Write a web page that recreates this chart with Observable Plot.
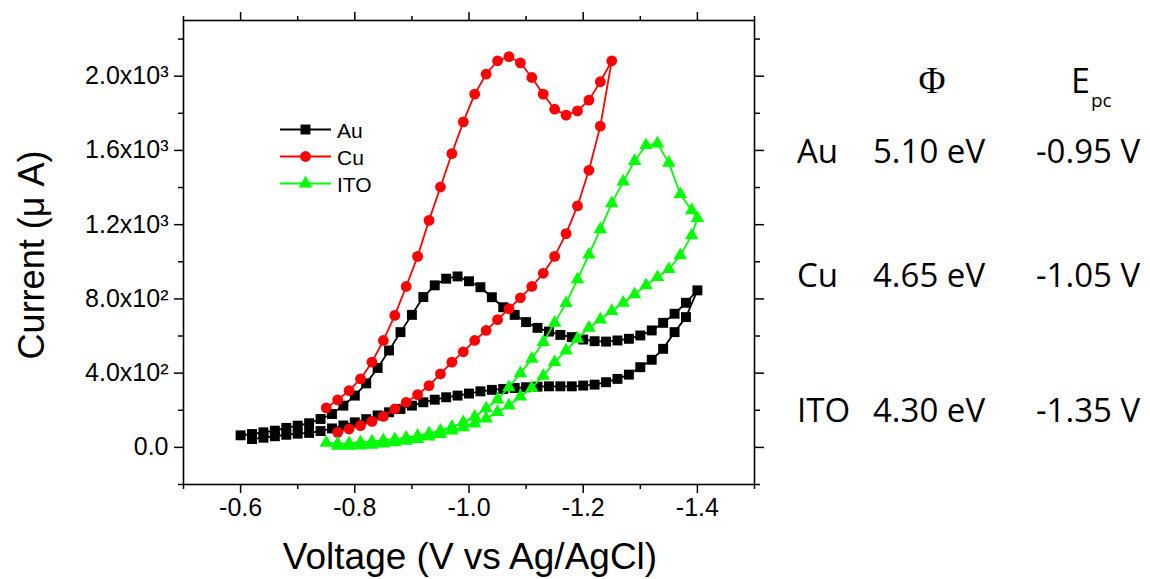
<!DOCTYPE html>
<html>
<head>
<meta charset="utf-8">
<script src="https://cdn.jsdelivr.net/npm/d3@7"></script>
<script src="https://cdn.jsdelivr.net/npm/@observablehq/plot@0.6"></script>
<style>
  body { margin: 0; background: #fff; }
  #wrap { position: relative; width: 1150px; height: 579px; overflow: hidden; background: #fff; }
  #chart { position: absolute; left: 0; top: 0; }
  #overlay { position: absolute; left: 0; top: 0; pointer-events: none; }
</style>
</head>
<body>
<div id="wrap">
  <div id="chart"></div>
  <svg id="overlay" width="1150" height="579"></svg>
</div>
<script>
// ---------------- data ----------------
const seriesNames = ["Au", "Cu", "ITO"];
const seriesColors = ["#000000", "#ff0000", "#00ff00"];
const seriesSymbols = ["square", "circle", "triangle"];

// Au: scan -0.60 -> -1.40 (branch A), return -1.38 -> -0.62 (branch B)
const auVoltA = [-0.60,-0.62,-0.64,-0.66,-0.68,-0.70,-0.72,-0.74,-0.76,-0.78,
                 -0.80,-0.82,-0.84,-0.86,-0.88,-0.90,-0.92,-0.94,-0.96,-0.98,
                 -1.00,-1.02,-1.04,-1.06,-1.08,-1.10,-1.12,-1.14,-1.16,-1.18,
                 -1.20,-1.22,-1.24,-1.26,-1.28,-1.30,-1.32,-1.34,-1.36,-1.38,-1.40];
const auCurrA = [65,72,81,90,105,117,130,153,180,225,
                 279,345,428,522,621,714,810,873,909,921,
                 895,863,809,755,714,675,644,624,606,594,
                 581,572,570,576,585,603,630,671,720,779,846];
const auVoltB = [-1.38,-1.36,-1.34,-1.32,-1.30,-1.28,-1.26,-1.24,-1.22,-1.20,
                 -1.18,-1.16,-1.14,-1.12,-1.10,-1.08,-1.06,-1.04,-1.02,-1.00,
                 -0.98,-0.96,-0.94,-0.92,-0.90,-0.88,-0.86,-0.84,-0.82,-0.80,
                 -0.78,-0.76,-0.74,-0.72,-0.70,-0.68,-0.66,-0.64,-0.62];
const auCurrB = [702,621,531,472,432,392,369,351,338,333,
                 329,329,329,327,324,320,315,310,302,290,
                 279,270,257,243,225,207,189,172,152,135,
                 118,102,88,78,74,68,60,52,45];

// Cu
const cuVoltA = [-0.75,-0.77,-0.79,-0.81,-0.83,-0.85,-0.87,-0.89,-0.91,-0.93,
                 -0.95,-0.97,-0.99,-1.01,-1.03,-1.05,-1.07,-1.09,-1.11,-1.13,
                 -1.15,-1.17,-1.19,-1.21,-1.23,-1.25];
const cuCurrA = [213,256,306,369,459,576,711,867,1029,1223,
                 1403,1583,1754,1903,2011,2083,2105,2072,1993,1903,
                 1822,1790,1813,1871,1970,2083];
const cuVoltB = [-1.23,-1.21,-1.19,-1.17,-1.15,-1.13,-1.11,-1.09,-1.07,-1.05,
                 -1.03,-1.01,-0.99,-0.97,-0.95,-0.93,-0.91,-0.89,-0.87,-0.85,
                 -0.83,-0.81,-0.79,-0.77];
const cuCurrB = [1731,1493,1301,1152,1029,938,867,806,747,688,
                 630,576,515,459,396,333,284,243,207,167,
                 140,117,99,81];

// ITO
const itoVoltA = [-0.75,-0.77,-0.79,-0.81,-0.83,-0.85,-0.87,-0.89,-0.91,-0.93,
                  -0.95,-0.97,-0.99,-1.01,-1.03,-1.05,-1.07,-1.09,-1.11,-1.13,
                  -1.15,-1.17,-1.19,-1.21,-1.23,-1.25,-1.27,-1.29,-1.31,-1.33,
                  -1.35,-1.37,-1.39,-1.40];
const itoCurrA = [25,20,22,27,32,38,44,52,62,75,
                  90,110,135,165,210,258,324,399,477,567,
                  671,777,905,1038,1175,1315,1432,1543,1628,1637,
                  1533,1364,1277,1235];
const itoVoltB = [-1.39,-1.37,-1.35,-1.33,-1.31,-1.29,-1.27,-1.25,-1.23,-1.21,
                  -1.19,-1.17,-1.15,-1.13,-1.11,-1.09,-1.07,-1.05,-1.03,-1.01,
                  -0.99,-0.97,-0.95,-0.93,-0.91,-0.89,-0.87,-0.85,-0.83,-0.81,
                  -0.79,-0.77];
const itoCurrB = [1142,1035,960,917,873,824,779,734,689,644,
                  585,522,459,385,321,274,225,190,155,128,
                  108,90,72,58,45,35,27,20,14,10,
                  8,8];

// axes
const xMajorTicks = [-0.6, -0.8, -1.0, -1.2, -1.4];
const xMinorTicks = [-0.5, -0.7, -0.9, -1.1, -1.3, -1.5];
const yMajorTicks = [0, 400, 800, 1200, 1600, 2000];
const yMajorLabels = ["0.0", "4.0x10\u00b2", "8.0x10\u00b2", "1.2x10\u00b3", "1.6x10\u00b3", "2.0x10\u00b3"];
const yMinorTicks = [-200, 200, 600, 1000, 1400, 1800, 2200];
const xTitle = "Voltage (V vs Ag/AgCl)";
const yTitle = "Current (\u03bc A)";

// side table
const tableMetals = ["Au", "Cu", "ITO"];
const tableWorkFunction = ["5.10 eV", "4.65 eV", "4.30 eV"];
const tableEpc = ["-0.95 V", "-1.05 V", "-1.35 V"];

// ---------------- build ----------------
const zip = (vs, is) => vs.map((v, k) => ({v, i: is[k]}));
const series = [
  zip(auVoltA, auCurrA).concat(zip(auVoltB, auCurrB)),
  zip(cuVoltA, cuCurrA).concat(zip(cuVoltB, cuCurrB)),
  zip(itoVoltA, itoCurrA).concat(zip(itoVoltB, itoCurrB))
];
const markerR = [5.6, 5.4, 5.0];

const blank = () => "";
const marks = [
  Plot.axisX(xMajorTicks, {anchor: "bottom", tickSize: 9, tickPadding: 5, fontSize: 25, strokeWidth: 1.5, tickFormat: d => d.toFixed(1), label: null}),
  Plot.axisX(xMinorTicks, {anchor: "bottom", tickSize: 5, strokeWidth: 1.5, tickFormat: blank, label: null}),
  Plot.axisX(xMajorTicks, {anchor: "top", tickSize: 9, strokeWidth: 1.5, tickFormat: blank, label: null}),
  Plot.axisX(xMinorTicks, {anchor: "top", tickSize: 5, strokeWidth: 1.5, tickFormat: blank, label: null}),
  Plot.axisY(yMajorTicks, {anchor: "left", tickSize: 9, tickPadding: 6, fontSize: 25, strokeWidth: 1.5, tickFormat: d => yMajorLabels[yMajorTicks.indexOf(d)], label: null}),
  Plot.axisY(yMinorTicks, {anchor: "left", tickSize: 5, strokeWidth: 1.5, tickFormat: blank, label: null}),
  Plot.axisY(yMajorTicks, {anchor: "right", tickSize: 9, strokeWidth: 1.5, tickFormat: blank, label: null}),
  Plot.axisY(yMinorTicks, {anchor: "right", tickSize: 5, strokeWidth: 1.5, tickFormat: blank, label: null}),
  Plot.frame({stroke: "black", strokeWidth: 1.6})
];
series.forEach((data, k) => {
  marks.push(Plot.line(data, {x: "v", y: "i", stroke: seriesColors[k], strokeWidth: 1.8, curve: "linear"}));
  marks.push(Plot.dot(data, {x: "v", y: "i", symbol: seriesSymbols[k], fill: seriesColors[k], stroke: "none", r: markerR[k]}));
});

const plot = Plot.plot({
  width: 770,
  height: 579,
  marginLeft: 183,
  marginRight: 16,
  marginTop: 20,
  marginBottom: 95,
  style: {fontFamily: "'Liberation Sans', Arial, sans-serif", background: "white", color: "black", overflow: "visible"},
  x: {domain: [-0.5, -1.5]},
  y: {domain: [-200, 2300]},
  marks
});
document.getElementById("chart").appendChild(plot);

// ---------------- overlay: titles, legend, table ----------------
const svg = d3.select("#overlay");
const sans = "'Liberation Sans', Arial, sans-serif";
const myriad = "'Open Sans', 'Noto Sans', sans-serif";

svg.append("text").attr("x", 470).attr("y", 569).attr("text-anchor", "middle")
  .attr("font-family", sans).attr("font-size", 37).attr("fill", "black").text(xTitle);
svg.append("text").attr("transform", "translate(44,255) rotate(-90)").attr("text-anchor", "middle")
  .attr("font-family", sans).attr("font-size", 36).attr("fill", "black").text(yTitle);

// legend
const legendY = [129.5, 156.5, 183.5];
const symbolTypes = {square: d3.symbolSquare, circle: d3.symbolCircle, triangle: d3.symbolTriangle};
seriesNames.forEach((name, k) => {
  const g = svg.append("g").attr("transform", `translate(0,${legendY[k]})`);
  g.append("line").attr("x1", 280).attr("x2", 331).attr("y1", 0).attr("y2", 0)
    .attr("stroke", seriesColors[k]).attr("stroke-width", 1.8);
  g.append("path").attr("transform", "translate(305.5,0)")
    .attr("d", d3.symbol(symbolTypes[seriesSymbols[k]], Math.PI * markerR[k] * markerR[k])())
    .attr("fill", seriesColors[k]);
  g.append("text").attr("x", 337).attr("y", 8).attr("font-family", sans).attr("font-size", 21)
    .attr("fill", "black").text(name);
});

// side table
svg.append("text").attr("x", 932).attr("y", 93).attr("text-anchor", "middle")
  .attr("font-family", "'Liberation Serif', 'DejaVu Serif', serif").attr("font-size", 37).attr("fill", "black").text("\u03a6");
const epcHead = svg.append("text").attr("x", 1071).attr("y", 93).attr("font-family", myriad).attr("fill", "black");
epcHead.append("tspan").attr("font-size", 34).text("E");
epcHead.append("tspan").attr("font-size", 19).attr("dx", 1).attr("dy", 14).text("pc");

const rowBaselines = [163, 287, 422];
tableMetals.forEach((m, k) => {
  svg.append("text").attr("x", 797).attr("y", rowBaselines[k]).attr("font-family", myriad)
    .attr("font-size", 33).attr("fill", "black").text(m);
  svg.append("text").attr("x", 873).attr("y", rowBaselines[k]).attr("font-family", myriad)
    .attr("font-size", 33).attr("fill", "black").text(tableWorkFunction[k]);
  svg.append("text").attr("x", 1036).attr("y", rowBaselines[k]).attr("font-family", myriad)
    .attr("font-size", 33).attr("fill", "black").text(tableEpc[k]);
});
</script>
</body>
</html>
